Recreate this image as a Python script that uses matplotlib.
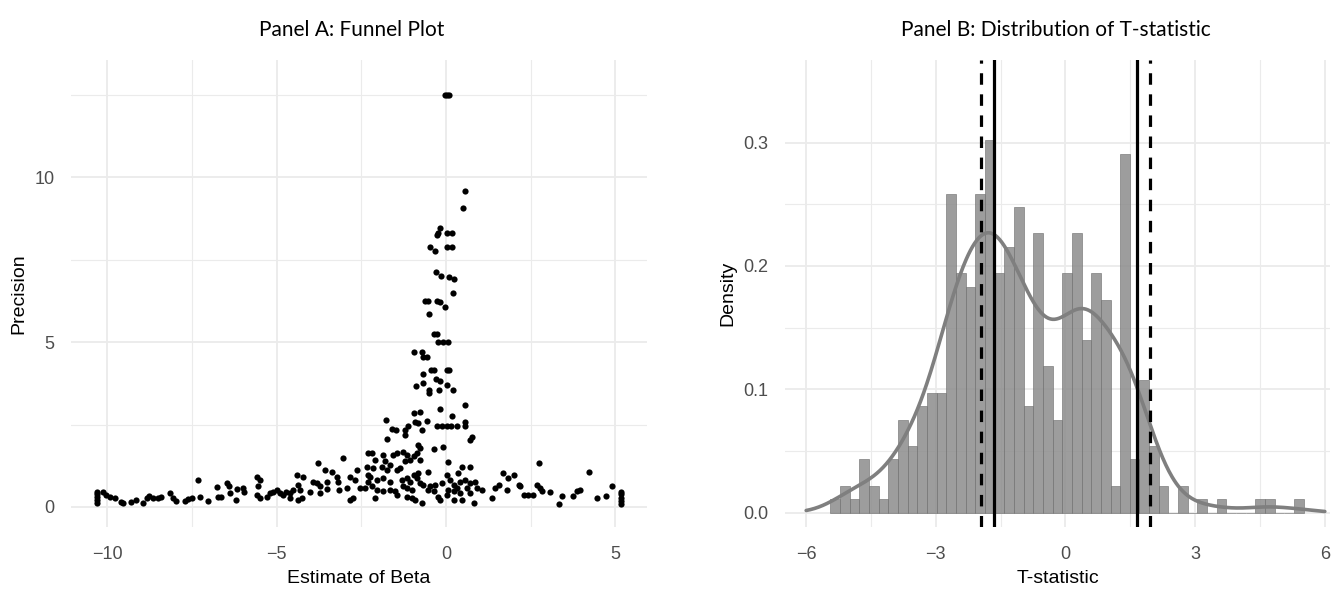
import matplotlib
matplotlib.use("Agg")
import matplotlib.pyplot as plt
import numpy as np

# ---- Panel A data: estimate of beta vs precision ----
beta_est = [
    # far left (winsorised tail)
    -10.30, -10.30, -10.30, -10.30, -10.30, -10.12, -10.04, -9.93, -9.78, -9.58,
    -9.53, -9.29, -9.14, -8.94, -8.84, -8.77, -8.65, -8.50, -8.40, -8.15,
    -8.06, -7.98, -7.71, -7.61, -7.51, -7.32, -7.27, -7.02, -6.77, -6.73,
    -6.63, -6.48, -6.40, -6.38, -6.20, -6.18,
    # -6 .. -2.3
    -5.99, -5.97, -5.59, -5.49, -5.54, -5.59, -5.49, -5.30, -5.20, -5.10,
    -5.00, -4.90, -4.81, -4.71, -4.61, -4.61, -4.51, -4.41, -4.36, -4.31,
    -4.36, -4.26, -4.22, -4.02, -3.92, -3.82, -3.72, -3.72, -3.77, -3.57,
    -3.51, -3.51, -3.38, -3.23, -3.18, -3.15, -3.03, -2.93, -2.84, -2.84,
    -2.74, -2.69, -2.62, -2.54, -2.39, -2.34, -2.31, -2.30, -2.30,
    # dense centre, low precision
    -1.21, -1.75, 0.71, 0.76, -0.82, -0.77, -0.37, -0.08,
    -2.20, -2.10, -1.85, -1.80, -1.56, -1.46, -1.26, -1.16, -1.21, -1.06,
    -0.96, -0.87, -0.77, 0.07, -2.15, -1.90, -1.75, -1.65, -1.46, -1.36,
    -0.96, -0.82, -0.52, 0.02, 0.36, 0.46, 0.71, -2.25, -2.05, -1.85,
    -1.65, -1.31, -1.16, -1.06, -0.87, -0.77, -0.67, -0.47, -0.33, -0.13,
    0.12, 0.22, 0.41, 0.56, 0.71, 0.86, -2.20, -2.05, -1.85, -1.65,
    -1.51, -1.26, -1.16, -1.01, -0.52, -0.37, -0.23, 0.07, 0.22, 0.32,
    0.41, 0.61, 0.71, 0.91, -2.10, -1.46, -1.16, -1.01, -0.92, -0.72,
    -0.18, 0.02, 0.22, 0.46, 0.81,
    # funnel spine, higher precision
    -0.04, 0.02, 0.09, 0.56, 0.49, -0.18, -0.23, -0.28, 0.04, 0.17,
    0.04, 0.17, -0.47, -0.33, -0.30, -0.16, 0.10, 0.22, 0.20, -0.62,
    -0.52, -0.28, -0.18, -0.03, -0.50, -0.37, -0.28, -0.23, -0.08, 0.07,
    -0.94, -0.72, -0.67, -0.57, -0.45, -0.36, 0.04, 0.10, -0.67, -0.30,
    -0.18, -0.67, -0.89, 0.04, -0.49, -0.49, -0.20, 0.20, 0.56, -0.18,
    -0.94, -0.77, 0.17, -1.77, -1.61, -1.48, -1.21, -1.11, -0.92, -0.82,
    -0.72, -0.57, -0.28, -0.13, 0.02, 0.14, 0.31, 0.56, 0.56,
    # right side
    1.05, 1.35, 1.45, 1.55, 1.69, 1.79, 1.84, 1.99, 2.14, 2.19,
    2.29, 2.43, 2.58, 2.68, 2.73, 2.78, 2.83, 3.07, 3.32, 3.42,
    3.76, 3.86, 3.94, 4.21, 4.45, 4.73, 4.89, 5.16, 5.16, 5.16,
    5.16, 5.16,
]
precision = [
    0.12, 0.20, 0.30, 0.38, 0.45, 0.46, 0.36, 0.31, 0.26, 0.16,
    0.11, 0.16, 0.21, 0.11, 0.26, 0.33, 0.26, 0.26, 0.29, 0.42,
    0.26, 0.19, 0.19, 0.23, 0.26, 0.82, 0.29, 0.19, 0.60, 0.29,
    0.29, 0.72, 0.62, 0.42, 0.21, 0.54,
    0.57, 0.46, 0.92, 0.82, 0.62, 0.36, 0.26, 0.31, 0.42, 0.46,
    0.52, 0.42, 0.36, 0.46, 0.42, 0.26, 0.52, 0.97, 0.67, 0.52,
    0.21, 0.26, 0.92, 0.46, 0.77, 0.72, 0.62, 0.42, 1.33, 1.12,
    0.77, 0.54, 1.07, 0.92, 0.77, 0.52, 1.48, 0.57, 0.92, 0.21,
    0.26, 0.82, 1.12, 0.57, 0.57, 1.22, 1.63, 0.97, 0.77,
    2.18, 2.05, 2.03, 2.11, 1.88, 1.78, 1.75, 1.81,
    1.63, 1.43, 1.58, 1.38, 1.58, 1.63, 1.68, 1.58, 1.38, 1.43,
    1.53, 1.63, 1.43, 1.35, 1.17, 1.22, 1.12, 1.27, 1.12, 1.17,
    0.97, 1.02, 1.07, 0.97, 1.04, 1.22, 1.22, 0.92, 0.82, 0.87,
    0.77, 0.82, 0.87, 0.77, 0.87, 0.72, 0.67, 0.62, 0.67, 0.72,
    0.82, 0.67, 0.77, 0.82, 0.72, 0.77, 0.62, 0.52, 0.47, 0.52,
    0.47, 0.62, 0.57, 0.52, 0.52, 0.47, 0.31, 0.52, 0.47, 0.57,
    0.41, 0.57, 0.41, 0.57, 0.26, 0.36, 0.31, 0.26, 0.21, 0.11,
    0.21, 0.36, 0.21, 0.21, 0.11,
    12.50, 12.50, 12.50, 9.57, 9.08, 8.45, 8.32, 8.25, 8.32, 8.32,
    7.88, 7.88, 7.90, 7.75, 7.14, 7.01, 6.99, 6.91, 6.48, 6.26,
    6.26, 6.26, 6.23, 6.06, 5.86, 5.25, 5.25, 4.99, 4.99, 4.99,
    4.71, 4.71, 4.54, 4.54, 4.16, 4.16, 4.16, 4.16, 4.03, 3.87,
    3.83, 3.77, 3.67, 3.70, 3.55, 3.45, 3.55, 3.55, 3.09, 2.96,
    2.84, 2.89, 2.76, 2.64, 2.36, 2.32, 2.32, 2.46, 2.59, 2.54,
    2.34, 2.62, 2.46, 2.46, 2.46, 2.46, 2.46, 2.59, 2.46,
    0.52, 0.26, 0.57, 0.67, 1.02, 0.52, 0.87, 0.97, 0.67, 0.62,
    0.37, 0.37, 0.37, 0.67, 1.33, 0.57, 0.47, 0.44, 0.09, 0.33,
    0.33, 0.47, 0.52, 1.07, 0.28, 0.33, 0.62, 0.08, 0.18, 0.28,
    0.38, 0.45,
]

# ---- Panel B data: histogram of t-statistics (counts per bin) ----
bin_start = -5.44
bin_width = 0.2235
t_counts = [1, 2, 1, 4, 2, 1, 4, 7, 5, 8, 9, 9, 24,
            18, 17, 24, 28, 18, 20, 23, 8, 21, 11, 7, 18, 21, 13,
            18, 16, 2, 27, 4, 10, 5, 2, 0, 2, 0, 1, 0, 1, 0, 0,
            0, 1, 1, 0, 0, 1]
crit_90 = 1.645
crit_95 = 1.96
kde_bw = 0.48

GRID = "#EBEBEB"
TICK = "#4D4D4D"


def style_axes(ax):
    for s in ax.spines.values():
        s.set_visible(False)
    ax.grid(True, which="major", color=GRID, lw=1.3)
    ax.grid(True, which="minor", color=GRID, lw=0.8)
    ax.set_axisbelow(True)
    ax.tick_params(which="both", length=0, labelsize=13, labelcolor=TICK)
    ax.tick_params(axis="x", pad=14)
    ax.tick_params(axis="y", pad=12)
    for lab in ax.get_xticklabels() + ax.get_yticklabels():
        lab.set_family("Liberation Sans")


W, H = 1336, 590
fig = plt.figure(figsize=(W / 100, H / 100), dpi=100)

# Panel A
axA = fig.add_axes([71 / W, 1 - 527 / H, (647 - 71) / W, (527 - 60) / H])
axA.scatter(beta_est, precision, s=20, color="black", linewidths=0, zorder=3)
axA.set_xlim(-11.07, 5.93)
axA.set_ylim(-0.61, 13.56)
axA.set_xticks([-10, -5, 0, 5])
axA.set_xticks([-7.5, -2.5, 2.5], minor=True)
axA.set_yticks([0, 5, 10])
axA.set_yticks([2.5, 7.5, 12.5], minor=True)
style_axes(axA)
axA.set_xlabel("Estimate of Beta", fontsize=14, family="Liberation Sans", labelpad=5)
axA.set_ylabel("Precision", fontsize=14, family="Liberation Sans", labelpad=5)

# Panel B
counts = np.array(t_counts, dtype=float)
edges = bin_start + bin_width * np.arange(len(counts) + 1)
dens = counts / (counts.sum() * bin_width)
centers = edges[:-1] + bin_width / 2

axB = fig.add_axes([785 / W, 1 - 527 / H, (1330 - 785) / W, (527 - 60) / H])
axB.bar(edges[:-1], dens, width=bin_width, align="edge",
        color="#8c8c8c", alpha=0.85, edgecolor="#707070", linewidth=0.5, zorder=2)

xs = np.linspace(-6, 6, 500)
kern = np.exp(-0.5 * ((xs[:, None] - centers[None, :]) / kde_bw) ** 2)
kde = (kern * counts[None, :]).sum(axis=1) / (counts.sum() * kde_bw * np.sqrt(2 * np.pi))
axB.plot(xs, kde, color="#7f7f7f", lw=2.6, zorder=3, solid_capstyle="round")

for v in (-crit_90, crit_90):
    axB.axvline(v, color="black", lw=2.3, zorder=4)
for v in (-crit_95, crit_95):
    axB.axvline(v, color="black", lw=2.3, ls=(0, (3.6, 3.0)), zorder=4)

axB.set_xlim(-6.49, 6.12)
axB.set_ylim(-0.0116, 0.367)
axB.set_xticks([-6, -3, 0, 3, 6])
axB.set_xticks([-4.5, -1.5, 1.5, 4.5], minor=True)
axB.set_yticks([0.0, 0.1, 0.2, 0.3])
axB.set_yticks([0.05, 0.15, 0.25], minor=True)
axB.set_yticklabels(["0.0", "0.1", "0.2", "0.3"])
style_axes(axB)
axB.set_xlabel("T-statistic", fontsize=14, family="Liberation Sans", labelpad=5)
axB.set_ylabel("Density", fontsize=14, family="Liberation Sans", labelpad=5)

fig.text(352 / W, 1 - 30 / H, "Panel A: Funnel Plot", ha="center", va="center",
         fontsize=15, family="Lato")
fig.text(1056 / W, 1 - 30 / H, "Panel B: Distribution of T-statistic", ha="center",
         va="center", fontsize=15, family="Lato")

fig.savefig("out.png", dpi=100)
